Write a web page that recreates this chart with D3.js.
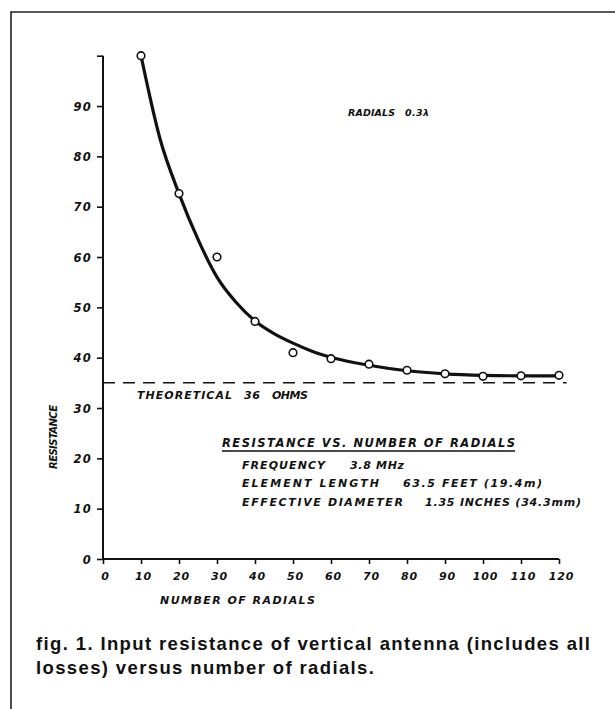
<!DOCTYPE html>
<html>
<head>
<meta charset="utf-8">
<script src="https://cdn.jsdelivr.net/npm/d3@7"></script>
<style>
  html, body { margin: 0; padding: 0; background: #fff; }
  svg { display: block; }
  .lbl { font-family: "DejaVu Sans", sans-serif; font-weight: bold; font-style: italic; fill: #111; }
  .cap { font-family: "Liberation Sans", Arial, sans-serif; font-weight: bold; fill: #111; }
</style>
</head>
<body>
<svg id="chart" width="615" height="709"></svg>
<script>
// ---- data ----
const radials = [10, 20, 30, 40, 50, 60, 70, 80, 90, 100, 110, 120];
const measuredResistance = [100, 72.6, 60, 47.2, 41, 39.8, 38.7, 37.5, 36.8, 36.3, 36.4, 36.5];
const curveRadials = [10, 15, 20, 25, 30, 35, 40, 45, 50, 55, 60, 70, 80, 90, 100, 110, 120];
const curveResistance = [100, 83.5, 72.6, 63.5, 56, 51, 47.3, 44.8, 42.9, 41.3, 40.1, 38.5, 37.4, 36.8, 36.5, 36.4, 36.4];
const theoreticalResistance = 35;
const xTicks = [0, 10, 20, 30, 40, 50, 60, 70, 80, 90, 100, 110, 120];
const yTicks = [0, 10, 20, 30, 40, 50, 60, 70, 80, 90, 100];
const yTickLabels = ["0", "10", "20", "30", "40", "50", "60", "70", "80", "90", ""];
const xTickLabels = ["0", "10", "20", "30", "40", "50", "60", "70", "80", "90", "100", "110", "120"];
const infoTitle = "RESISTANCE VS. NUMBER OF RADIALS";
const infoKeys = ["FREQUENCY", "ELEMENT LENGTH", "EFFECTIVE DIAMETER"];
const infoValues = ["3.8 MHz", "63.5 FEET (19.4m)", "1.35 INCHES (34.3mm)"];
const captionLines = ["fig. 1. Input resistance of vertical antenna (includes all", "losses) versus number of radials."];

const svg = d3.select("#chart");
const ink = "#111";

// frame
svg.append("path")
  .attr("d", "M615,12 L11,12 L11,709")
  .attr("fill", "none").attr("stroke", "#222").attr("stroke-width", 1.6);

const x = d3.scaleLinear().domain([0, 120]).range([103, 559]);
const y = d3.scaleLinear().domain([0, 100]).range([559, 55.7]);

// y axis
const yAxis = d3.axisLeft(y).tickValues(yTicks).tickSize(6).tickPadding(5)
  .tickFormat((d, i) => yTickLabels[i]);
const gy = svg.append("g").attr("transform", `translate(${x(0)},0)`).call(yAxis);
gy.select(".domain").attr("stroke", ink).attr("stroke-width", 2).attr("d", `M0,${y(0)}V${y(100)}`);
gy.selectAll(".tick line").attr("stroke", ink).attr("stroke-width", 1.6);
gy.selectAll(".tick text").attr("class", "lbl").attr("font-size", 11.5)
  .attr("letter-spacing", 1.2).attr("dy", "0.36em");

// x axis
const xAxis = d3.axisBottom(x).tickValues(xTicks).tickSize(5).tickPadding(8)
  .tickFormat((d, i) => xTickLabels[i]);
const gx = svg.append("g").attr("transform", `translate(0,${y(0)})`).call(xAxis);
gx.select(".domain").attr("stroke", ink).attr("stroke-width", 2).attr("d", `M${x(0)},0H${x(120)}`);
gx.selectAll(".tick line").attr("stroke", ink).attr("stroke-width", 1.6);
gx.selectAll(".tick text").attr("class", "lbl").attr("font-size", 11)
  .attr("letter-spacing", 0.8).attr("dx", "2");

// theoretical dashed line
svg.append("line")
  .attr("x1", x(0)).attr("x2", x(122))
  .attr("y1", y(theoreticalResistance)).attr("y2", y(theoreticalResistance))
  .attr("stroke", ink).attr("stroke-width", 1.5).attr("stroke-dasharray", "12,8");

// fitted curve
const line = d3.line().x(d => x(d[0])).y(d => y(d[1])).curve(d3.curveMonotoneX);
svg.append("path")
  .datum(curveRadials.map((r, i) => [r, curveResistance[i]]))
  .attr("d", line).attr("fill", "none").attr("stroke", ink).attr("stroke-width", 3.2);

// measured points
svg.selectAll("circle.pt").data(radials.map((r, i) => [r, measuredResistance[i]]))
  .enter().append("circle").attr("class", "pt")
  .attr("cx", d => x(d[0])).attr("cy", d => y(d[1])).attr("r", 3.8)
  .attr("fill", "#fff").attr("stroke", ink).attr("stroke-width", 1.6);

// helper for fitted text
function txt(str, x0, x1, yb, size) {
  return svg.append("text").attr("class", "lbl").attr("x", x0).attr("y", yb)
    .attr("font-size", size).attr("textLength", x1 - x0).attr("lengthAdjust", "spacing").text(str);
}

// annotations
txt("RADIALS", 348, 395, 116, 9.5);
txt("0.3λ", 405, 429, 116, 9.5);
txt("THEORETICAL", 137, 232, 399, 11);
txt("36", 244, 260, 399, 11);
txt("OHMS", 272, 308, 399, 11);

txt(infoTitle, 222, 515, 447, 11.5);
svg.append("line").attr("x1", 222).attr("x2", 515).attr("y1", 451).attr("y2", 451)
  .attr("stroke", ink).attr("stroke-width", 1.5);
const keyX = [[242, 325], [242, 379], [242, 403]];
const valX = [[350, 404], [403, 542], [425, 581]];
const rowY = [469, 487, 505.5];
infoKeys.forEach((k, i) => txt(k, keyX[i][0], keyX[i][1], rowY[i], 11));
infoValues.forEach((v, i) => txt(v, valX[i][0], valX[i][1], rowY[i], 11));

// axis titles
txt("NUMBER OF RADIALS", 160, 315, 604, 11);
svg.append("text").attr("class", "lbl").attr("font-size", 10)
  .attr("transform", "translate(57,437) rotate(-90)").attr("text-anchor", "middle")
  .attr("textLength", 64).attr("lengthAdjust", "spacing").text("RESISTANCE");

// caption
const capSize = 18.5;
const capLineY = [650, 674];
const capNodes = captionLines.map((t, i) => svg.append("text").attr("class", "cap")
  .attr("x", 36).attr("y", capLineY[i]).attr("font-size", capSize).text(t));
const L = capNodes[0].node().getComputedTextLength();
const ls = Math.max(0, (554 - L) / (captionLines[0].length - 1));
capNodes.forEach(n => n.attr("letter-spacing", ls));
</script>
</body>
</html>
